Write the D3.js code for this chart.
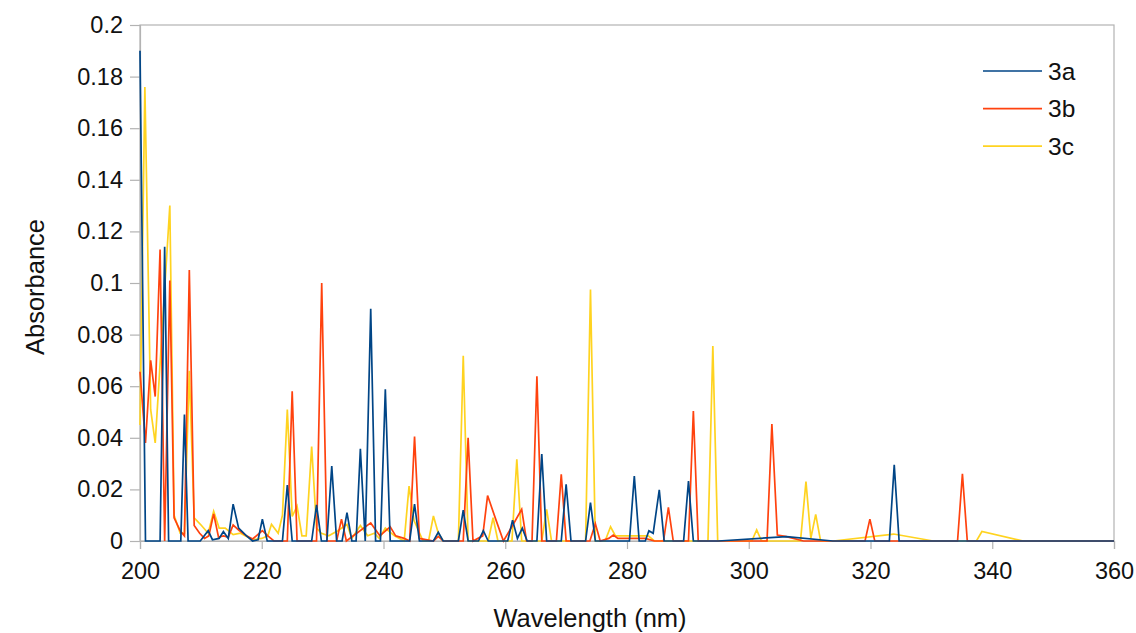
<!DOCTYPE html>
<html>
<head>
<meta charset="utf-8">
<script src="https://cdnjs.cloudflare.com/ajax/libs/d3/7.8.5/d3.min.js"></script>
<style>
  body { margin: 0; background: #fff; }
  text { font-family: "Liberation Sans", Arial, sans-serif; fill: #111; }
</style>
</head>
<body>
<svg id="chart" width="1136" height="633"></svg>
<script>
// wavelength (nm), absorbance
var spec3a = [
  [200, 0.190], [200.9, 0], [203.3, 0], [204.05, 0.114], [204.7, 0], [206.7, 0], [207.3, 0.049], [207.9, 0],
  [209.9, 0], [211.2, 0.004], [211.9, 0.0005], [213.0, 0.001], [213.7, 0.0037], [214.5, 0.001], [215.3, 0.0143],
  [216.2, 0.005], [217.5, 0.002], [218.5, 0], [219.4, 0.0005], [220.1, 0.0085], [220.9, 0], [223.4, 0],
  [224.2, 0.0217], [225.0, 0], [228.2, 0], [229.0, 0.014], [229.8, 0], [230.7, 0], [231.5, 0.029], [232.3, 0],
  [233.2, 0], [234.0, 0.011], [234.8, 0], [235.5, 0], [236.2, 0.0357], [237.0, 0], [237.9, 0.090], [238.7, 0],
  [239.5, 0], [240.3, 0.0588], [241.1, 0], [244.3, 0], [245.1, 0.0143], [245.9, 0], [248.2, 0], [249.0, 0.0034],
  [249.8, 0], [252.3, 0], [253.1, 0.012], [253.9, 0], [255.6, 0], [256.4, 0.004], [257.2, 0], [260.4, 0],
  [261.2, 0.0081], [262.0, 0.001], [262.8, 0.005], [263.6, 0], [265.2, 0], [266.0, 0.0337], [266.8, 0],
  [269.2, 0], [270.0, 0.022], [270.8, 0], [273.2, 0], [274.0, 0.0149], [274.8, 0], [280.4, 0], [281.2, 0.0252],
  [282.0, 0], [283.0, 0], [283.6, 0.004], [284.3, 0.003], [285.3, 0.0198], [286.1, 0], [289.3, 0],
  [290.1, 0.0232], [290.9, 0], [295, 0], [306.2, 0.0017], [313.8, 0], [323.1, 0], [323.9, 0.0295], [324.7, 0],
  [360, 0]
];
var spec3b = [
  [200, 0.0656], [200.9, 0.038], [201.75, 0.070], [202.5, 0.056], [203.3, 0.113], [204.05, 0], [204.9, 0.101],
  [205.6, 0.009], [206.6, 0.004], [207.3, 0.002], [208.1, 0.105], [208.9, 0.006], [209.8, 0.003], [210.6, 0.001],
  [211.3, 0.002], [212.1, 0.0105], [212.9, 0.0015], [213.7, 0.002], [214.5, 0.0015], [215.3, 0.0062],
  [216.3, 0.004], [217.5, 0.002], [218.5, 0.0008], [220.1, 0.004], [221.0, 0.002], [222.0, 0], [224.2, 0],
  [225.0, 0.058], [225.8, 0], [229.0, 0], [229.85, 0.100], [230.7, 0], [232.3, 0], [233.1, 0.0085], [233.9, 0],
  [235.6, 0.003], [237.9, 0.007], [239.4, 0.002], [241.1, 0.0055], [242.0, 0.002], [243.4, 0.001], [244.3, 0],
  [245.1, 0.0405], [245.9, 0.001], [248.2, 0], [249.0, 0.0018], [249.8, 0], [253.1, 0], [253.9, 0.040],
  [254.7, 0], [256.3, 0.002], [257.1, 0.0176], [258.5, 0.008], [259.7, 0], [261.2, 0.006], [262.7, 0.0123],
  [263.5, 0], [264.4, 0], [265.2, 0.0638], [266.0, 0], [268.4, 0], [269.2, 0.0258], [270.0, 0], [273.9, 0],
  [274.8, 0.0067], [275.6, 0], [277.0, 0.001], [277.75, 0.0023], [278.5, 0.001], [283.0, 0.001], [284.5, 0],
  [286.0, 0], [286.8, 0.013], [287.6, 0], [290.1, 0], [290.9, 0.0504], [291.7, 0], [303.0, 0], [303.8, 0.0453],
  [304.7, 0.0023], [306.0, 0.0018], [309.0, 0], [319.1, 0], [319.9, 0.0085], [320.7, 0], [334.3, 0],
  [335.1, 0.026], [335.9, 0], [360, 0]
];
var spec3c = [
  [200, 0.045], [200.8, 0.176], [201.75, 0.051], [202.5, 0.038], [204.9, 0.130], [205.6, 0.010], [206.6, 0.003],
  [207.3, 0.003], [208.1, 0.066], [208.9, 0.009], [210.1, 0.006], [211.2, 0.003], [212.1, 0.0115], [213.0, 0.005],
  [214.0, 0.005], [215.3, 0.0025], [216.5, 0.003], [218.5, 0.0005], [220.0, 0.001], [221.0, 0.002],
  [221.6, 0.0065], [222.7, 0.003], [223.4, 0.01], [224.2, 0.051], [225.0, 0.0095], [225.8, 0.0135],
  [226.6, 0.002], [227.3, 0.002], [228.2, 0.0366], [229.0, 0.005], [229.8, 0.003], [231.0, 0.002],
  [232.5, 0.004], [234.0, 0.0065], [234.8, 0.001], [236.2, 0.006], [237.4, 0.002], [238.5, 0.003],
  [239.3, 0.001], [240.3, 0.005], [241.8, 0.002], [243.4, 0], [244.2, 0.0213], [245.0, 0.008], [246.5, 0],
  [247.4, 0], [248.2, 0.0097], [249.0, 0.003], [249.8, 0], [252.3, 0], [253.1, 0.0718], [253.9, 0], [257.2, 0],
  [258.0, 0.009], [258.8, 0], [261.1, 0], [261.9, 0.0317], [262.7, 0], [266.0, 0], [266.8, 0.0123], [267.6, 0],
  [273.2, 0], [274.0, 0.0975], [274.8, 0], [276.4, 0], [277.3, 0.0055], [278.1, 0.002], [283.5, 0.002],
  [284.5, 0], [293.3, 0], [294.1, 0.0756], [294.9, 0], [300.5, 0], [301.3, 0.0043], [302.1, 0], [308.5, 0],
  [309.4, 0.023], [310.2, 0.001], [311.0, 0.0103], [311.8, 0], [313.9, 0], [323.8, 0.0027], [330.3, 0],
  [337.4, 0], [338.3, 0.0037], [345.1, 0], [360, 0]
];

var seriesNames = ["3a", "3b", "3c"];
var seriesColors = ["#004586", "#ff420e", "#ffd320"];
var xTicks = [200, 220, 240, 260, 280, 300, 320, 340, 360];
var yTicks = [0, 0.02, 0.04, 0.06, 0.08, 0.1, 0.12, 0.14, 0.16, 0.18, 0.2];

var allSeries = [spec3c, spec3b, spec3a];
var drawColors = [seriesColors[2], seriesColors[1], seriesColors[0]];

var svg = d3.select("#chart");
var plotLeft = 140, plotRight = 1114, plotTop = 25, plotBottom = 541;

var x = d3.scaleLinear().domain([200, 360]).range([plotLeft, plotRight]);
var y = d3.scaleLinear().domain([0, 0.2]).range([plotBottom, plotTop]);

// plot frame
svg.append("rect")
    .attr("x", plotLeft)
    .attr("y", plotTop)
    .attr("width", plotRight - plotLeft)
    .attr("height", plotBottom - plotTop)
    .attr("fill", "none")
    .attr("stroke", "#b3b3b3")
    .attr("stroke-width", 1.2);

var xAxis = svg.append("g")
    .attr("transform", "translate(0," + plotBottom + ")")
    .call(d3.axisBottom(x).tickValues(xTicks).tickSize(8).tickPadding(13).tickFormat(d3.format("d")));

var yAxis = svg.append("g")
    .attr("transform", "translate(" + plotLeft + ",0)")
    .call(d3.axisLeft(y).tickValues(yTicks).tickSize(10).tickPadding(7).tickFormat(function(d){
        return d === 0 ? "0" : String(+d.toFixed(2));
    }));

[xAxis, yAxis].forEach(function(ax){
    ax.select(".domain").attr("stroke", "#b3b3b3").attr("stroke-width", 1.2);
    ax.selectAll(".tick line").attr("stroke", "#b3b3b3").attr("stroke-width", 1.2);
    ax.selectAll(".tick text")
        .attr("font-size", 23.5)
        .attr("font-family", "Liberation Sans, Arial, sans-serif")
        .attr("fill", "#111");
});

var line = d3.line()
    .x(function(d){ return x(d[0]); })
    .y(function(d){ return y(d[1]); });

svg.append("g")
    .selectAll("path")
    .data(allSeries)
    .enter()
    .append("path")
    .attr("d", line)
    .attr("fill", "none")
    .attr("stroke", function(d, i){ return drawColors[i]; })
    .attr("stroke-width", 1.7)
    .attr("stroke-linejoin", "miter");

// legend
var legend = svg.append("g");
seriesNames.forEach(function(name, i){
    var ly = 71 + i * 37.6;
    legend.append("line")
        .attr("x1", 983).attr("x2", 1042)
        .attr("y1", ly).attr("y2", ly)
        .attr("stroke", seriesColors[i])
        .attr("stroke-width", 1.7);
    legend.append("text")
        .attr("x", 1048)
        .attr("y", ly + 8.5)
        .attr("font-size", 24.5)
        .text(name);
});

// axis titles
svg.append("text")
    .attr("x", 590)
    .attr("y", 627)
    .attr("text-anchor", "middle")
    .attr("font-size", 25.5)
    .text("Wavelength (nm)");

svg.append("text")
    .attr("transform", "translate(44,287) rotate(-90)")
    .attr("text-anchor", "middle")
    .attr("font-size", 25.5)
    .text("Absorbance");
</script>
</body>
</html>
